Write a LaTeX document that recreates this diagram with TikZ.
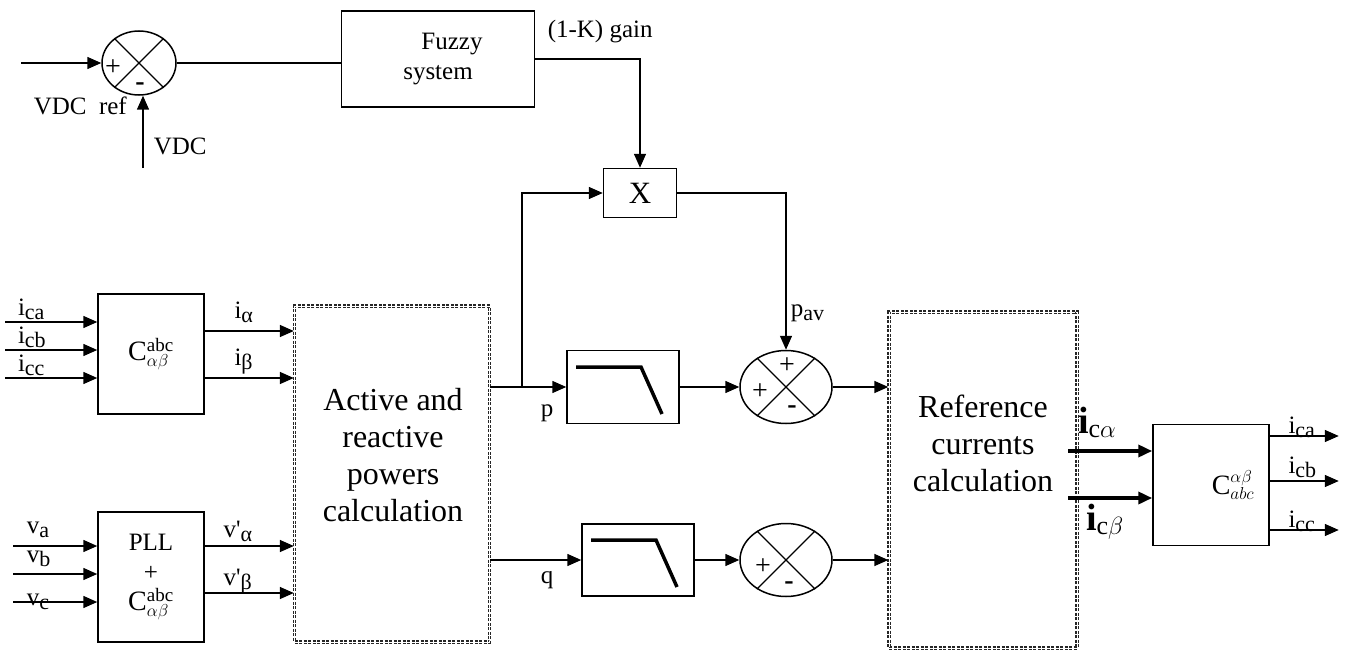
\documentclass[tikz,border=0pt]{standalone}
\usepackage{fontspec}
\setmainfont{Liberation Serif}
\usetikzlibrary{arrows.meta,shapes.geometric}
\DeclareMathSizes{28}{28}{19}{14}
\DeclareMathSizes{22}{22}{15}{11}
\DeclareMathSizes{26}{26}{18}{13}
\newcommand\sub[1]{\raisebox{-0.35ex}{\fontsize{22}{22}\selectfont #1}}

\begin{document}
\begin{tikzpicture}[x=1pt,y=-1pt,line width=1.5pt,
    font=\fontsize{25}{30}\selectfont,
    arr/.style={-{Triangle[length=14pt,width=12pt]}},
    blk/.style={draw,rectangle,inner sep=0pt,align=center},
    sumx/.style={draw,ellipse,inner sep=0pt},
    calcbox/.style={draw=black!85,double=white,double distance=1pt,line width=1.4pt,
        dash pattern=on 3pt off 1.5pt,inner sep=0pt},
    bigtxt/.style={align=center,font=\fontsize{32}{37}\selectfont},
    lbl/.style={anchor=base west,inner sep=0pt},
    sgn/.style={inner sep=0pt,font=\fontsize{28}{28}\selectfont}]
\useasboundingbox (0,0) rectangle (1351,650);

% DC bus loop
\node[sumx,minimum width=74pt,minimum height=64pt] (sumdc) at (139,63) {};
\node[blk,minimum width=193pt,minimum height=96pt] (fuzzy) at (438,59) {\hspace*{28pt}Fuzzy\\system};
\node[blk,minimum width=73pt,minimum height=49pt,font=\fontsize{31}{31}\selectfont] (mult) at (640,193) {X};

% transforms
\node[blk,minimum width=106pt,minimum height=120pt,font=\fontsize{28}{32}\selectfont] (clarke) at (151,354)
    {$\mathrm{C}^{\mathrm{abc}}_{\alpha\beta}$};
\node[blk,minimum width=106pt,minimum height=130pt] (pll) at (151,577)
    {PLL\\+\\{\fontsize{28}{32}\selectfont$\mathrm{C}^{\mathrm{abc}}_{\alpha\beta}$}};
\node[blk,minimum width=116pt,minimum height=121pt,font=\fontsize{28}{32}\selectfont] (invclarke) at (1211,485)
    {\hspace*{44pt}$\mathrm{C}^{\alpha\beta}_{abc}$};

% calculation blocks
\node[calcbox,minimum width=195pt,minimum height=336pt] (pq) at (392,474) {};
\node[bigtxt] (pqtxt) at (393,455) {Active and\\reactive\\powers\\calculation};
\node[calcbox,minimum width=188pt,minimum height=336pt] (refcur) at (983,480) {};
\node[bigtxt] (reftxt) at (983,443) {Reference\\currents\\calculation};

% filters and sums
\node[blk,minimum width=112pt,minimum height=73pt] (lpfp) at (623,387) {};
\node[blk,minimum width=112pt,minimum height=72pt] (lpfq) at (638,560) {};
\node[sumx,minimum width=92pt,minimum height=73pt] (sump) at (786,387) {};
\node[sumx,minimum width=92pt,minimum height=73pt] (sumq) at (786,560) {};

\foreach \s in {sumdc,sump,sumq}
    \draw[line width=1.3pt] (\s.45) -- (\s.225) (\s.135) -- (\s.315);
\foreach \f in {lpfp,lpfq}
    \draw[line width=3.5pt] ([shift={(-47pt,20pt)}]\f.center) -- ++(65,0) -- ++(21,47);

% signs
\node[sgn] at (113,68) {+};
\node[sgn] at (140,87) {\textbf{-}};
\node[sgn] at (787,366) {+};
\node[sgn] at (760,392) {+};
\node[sgn] at (792,410) {\textbf{-}};
\node[sgn] at (763,567) {+};
\node[sgn] at (789,586) {\textbf{-}};

% top part
\coordinate (vref) at (21,63);
\coordinate (vdc) at (143,168);
\draw[arr] (vref) -- (sumdc.west);
\draw[arr] (vdc) -- (vdc |- sumdc.south);
\node[lbl] at (33,115) {VDC\ \ ref};
\node[lbl] at (153,154) {VDC};
\draw (sumdc.east) -- (fuzzy.west |- sumdc.east);
\draw[arr] (fuzzy.east) -| (mult.north);
\node[lbl] at (547,38) {(1-K) gain};

% p and q paths
\coordinate (pj) at (522,387);
\draw[arr] (pj) |- (mult.west);
\draw[arr] (pq.east |- pj) -- (lpfp.west);
\draw[arr] (mult.east) -| (sump.north);
\node[lbl] at (790,316) {p\sub{av}};
\draw[arr] (lpfp) -- (sump);
\draw[arr] (sump.east) -- (refcur.west |- sump.east);
\draw[arr] (pq.east |- lpfq.west) -- (lpfq.west);
\draw[arr] (lpfq) -- (sumq);
\draw[arr] (sumq.east) -- (refcur.west |- sumq.east);
\node[lbl] at (540,416) {p};
\node[lbl] at (540,583) {q};

% inputs
\foreach \s/\t in {32/ca,4/cb,-24/cc}
    \draw[arr] ([shift={(-92pt,\s pt)}]clarke.west) -- ([yshift=\s pt]clarke.west)
        node[lbl,pos=0,xshift=12pt,yshift=7pt] {i\sub{\t}};
\foreach \s/\t/\u in {31/a/13,3/b/12,-25/c/-3}
    \draw[arr] ([shift={(-84pt,\s pt)}]pll.west) -- ([yshift=\s pt]pll.west)
        node[lbl,pos=0,xshift=13pt,yshift=\u pt] {v\sub{\t}};

% outputs to power calculation
\foreach \s/\t in {23/α,-24/β}{
    \coordinate (co) at ([yshift=\s pt]clarke.east);
    \draw[arr] (co) -- (pq.west |- co)
        node[lbl,pos=0,xshift=29pt,yshift=13pt] {i\sub{\t}};}
\foreach \s/\t/\u in {31/α/9,-16/β/8}{
    \coordinate (po) at ([yshift=\s pt]pll.east);
    \draw[arr] (po) -- (pq.west |- po)
        node[lbl,pos=0,xshift=18pt,yshift=\u pt] {v\textquotesingle\sub{\t}};}

% reference currents
\foreach \s/\t/\u/\v in {34/\alpha/8/18,-13/\beta/16/-32}
    \draw[arr,line width=3.5pt] ([shift={(-84pt,\s pt)}]invclarke.west) -- ([yshift=\s pt]invclarke.west)
        node[lbl,pos=0,xshift=\u pt,yshift=\v pt,font=\fontsize{38}{38}\selectfont]
        {\textbf{i}\raisebox{-0.25ex}{\fontsize{26}{26}\selectfont c$\t$}};
\foreach \s/\t/\u in {49/ca/3,4/cb/8,-45/cc/3}
    \draw[arr] ([yshift=\s pt]invclarke.east) -- ++(69,0)
        node[lbl,pos=0,xshift=18pt,yshift=\u pt] {i\sub{\t}};
\end{tikzpicture}
\end{document}
